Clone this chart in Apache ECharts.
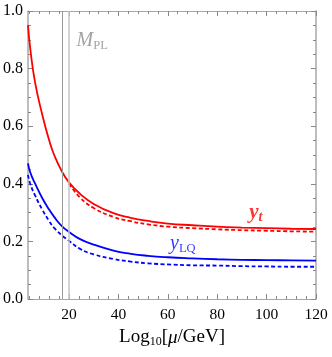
<!DOCTYPE html>
<html><head><meta charset="utf-8">
<script src="https://cdn.jsdelivr.net/npm/echarts@6/dist/echarts.min.js"></script>
<style>html,body{margin:0;padding:0;background:#fff}#c{width:332px;height:357px}</style>
</head><body><div id="c"></div>
<script>
// ---- data ----
const xRedSolid  = [3.4, 4.3, 6.2, 9.2, 12, 14, 17, 20, 24.5, 30, 38, 45, 52, 60, 70, 80, 90, 100, 110, 120];
const redSolid   = [0.951, 0.87, 0.755, 0.639, 0.55, 0.50, 0.445, 0.405, 0.365, 0.33, 0.298, 0.282, 0.271, 0.262, 0.256, 0.251, 0.248, 0.246, 0.244, 0.243];
const xRedDashed = [20, 24.5, 30, 38, 45, 52, 60, 70, 80, 90, 100, 110, 120];
const redDashed  = [0.40, 0.352, 0.316, 0.285, 0.27, 0.259, 0.251, 0.246, 0.242, 0.239, 0.237, 0.235, 0.234];
const xBlue      = [3.4, 4.3, 6.2, 9.2, 12, 14, 17, 20, 24.5, 30, 38, 45, 52, 60, 70, 80, 90, 100, 110, 120];
const blueSolid  = [0.471, 0.44, 0.402, 0.35, 0.31, 0.285, 0.254, 0.233, 0.208, 0.189, 0.168, 0.157, 0.150, 0.145, 0.141, 0.138, 0.136, 0.135, 0.134, 0.133];
const blueDashed = [0.431, 0.40, 0.361, 0.31, 0.27, 0.247, 0.222, 0.202, 0.174, 0.155, 0.139, 0.130, 0.124, 0.120, 0.117, 0.116, 0.114, 0.113, 0.112, 0.112];
const vLines     = [17.1, 20];
const xMajorTicks = [20, 40, 60, 80, 100, 120];
const xMinorTicks = [4, 8, 12, 16, 24, 28, 32, 36, 44, 48, 52, 56, 64, 68, 72, 76, 84, 88, 92, 96, 104, 108, 112, 116];
const xRange = [3.4, 120];
const yRange = [0, 1];
const labelPos = { yt: [95.6, 0.299], yLQ: [66.1, 0.191], MPL: [29.4, 0.895] };

const zip = (xs, ys) => xs.map((x, i) => [x, ys[i]]);
const FONT = '"Liberation Serif", "DejaVu Serif", serif';
const FRAME = '#a8a8a8';

function xAxisDef(pos, ticks, len, labels, line) {
  return {
    type: 'value', position: pos, min: xRange[0], max: xRange[1],
    axisLine: { show: line, onZero: false, lineStyle: { color: FRAME, width: 1 } },
    axisTick: { show: true, inside: true, length: len, customValues: ticks, lineStyle: { color: '#888' } },
    axisLabel: labels ? { show: true, customValues: xMajorTicks, margin: 8, color: '#000', fontFamily: FONT, fontSize: 15.5, formatter: v => String(v) } : { show: false },
    splitLine: { show: false }
  };
}
function yAxisDef(pos, labels) {
  return {
    type: 'value', position: pos, min: yRange[0], max: yRange[1], interval: 0.2,
    axisLine: { show: true, onZero: false, lineStyle: { color: FRAME, width: 1.5 } },
    axisTick: { show: true, inside: true, length: 5, lineStyle: { color: '#888' } },
    minorTick: { show: true, splitNumber: 4, length: 3, lineStyle: { color: '#888' } },
    axisLabel: labels ? { show: true, margin: 5, color: '#000', fontFamily: FONT, fontSize: 16, formatter: v => v.toFixed(1) } : { show: false },
    splitLine: { show: false }
  };
}
const lineSeries = (xs, ys, color, dashed) => ({
  type: 'line', data: zip(xs, ys), showSymbol: false, smooth: 0.5,
  lineStyle: { color: color, width: 1.8, type: dashed ? [4, 2.5] : 'solid' }
});

const chart = echarts.init(document.getElementById('c'), null, { renderer: 'canvas' });
chart.setOption({
  animation: false,
  grid: { left: 28, right: 16, top: 11, bottom: 58, containLabel: false },
  xAxis: [
    Object.assign(xAxisDef('bottom', xMajorTicks, 5, true, true), {
      name: 'Log{s|10}[{m|μ}/GeV]', nameLocation: 'middle', nameGap: 28,
      nameTextStyle: { color: '#000', fontFamily: FONT, fontSize: 19, rich: {
        s: { fontFamily: FONT, fontSize: 12, padding: [9, 0, 0, 0] },
        m: { fontFamily: FONT, fontSize: 19, fontStyle: 'italic' } } }
    }),
    xAxisDef('bottom', xMinorTicks, 3, false, false),
    xAxisDef('top', xMajorTicks, 5, false, true),
    xAxisDef('top', xMinorTicks, 3, false, false)
  ],
  yAxis: [yAxisDef('left', true), yAxisDef('right', false)],
  series: [
    { type: 'line', xAxisIndex: 0, yAxisIndex: 0, data: [], silent: true,
      markLine: { silent: true, symbol: 'none', label: { show: false },
        data: [
          { xAxis: vLines[0], lineStyle: { color: '#9a9a9a', width: 1, type: 'solid' } },
          { xAxis: vLines[1], lineStyle: { color: '#c4c4c4', width: 1.5, type: 'solid' } }
        ] } },
    lineSeries(xRedSolid, redSolid, '#ff0000', false),
    lineSeries(xRedDashed, redDashed, '#ff0000', true),
    lineSeries(xBlue, blueSolid, '#0000ff', false),
    lineSeries(xBlue, blueDashed, '#0000ff', true),
    { type: 'scatter', symbolSize: 0, silent: true,
      data: [
        { value: labelPos.yt, label: { show: true, position: 'inside', formatter: '{a|y}{b|t}', rich: {
          a: { fontFamily: FONT, fontSize: 21, fontStyle: 'italic', fontWeight: 'bold', color: '#ff0000' },
          b: { fontFamily: FONT, fontSize: 14, fontStyle: 'italic', fontWeight: 'bold', color: '#ff0000', padding: [9, 0, 0, 0] } } } },
        { value: labelPos.yLQ, label: { show: true, position: 'inside', formatter: '{a|y}{b|LQ}', rich: {
          a: { fontFamily: FONT, fontSize: 20, fontStyle: 'italic', color: '#0000ff' },
          b: { fontFamily: FONT, fontSize: 12.5, color: '#0000ff', padding: [9, 0, 0, 0] } } } },
        { value: labelPos.MPL, label: { show: true, position: 'inside', formatter: '{a|M}{b|PL}', rich: {
          a: { fontFamily: FONT, fontSize: 20, fontStyle: 'italic', color: '#8c8c8c' },
          b: { fontFamily: FONT, fontSize: 12.5, color: '#8c8c8c', padding: [9, 0, 0, 0] } } } }
      ] }
  ]
});
</script></body></html>
